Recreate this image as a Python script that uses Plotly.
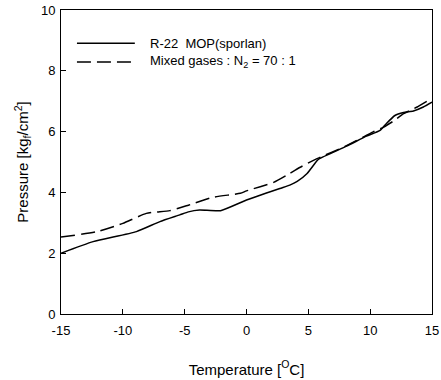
import plotly.graph_objects as go

# R-22 MOP (sporlan) - solid
r22_temp = [-15, -12.4, -8.9, -7.0, -5.4, -4.7, -3.8, -2.1, 0.0, 2.7, 3.5, 4.1,
            4.9, 5.7, 5.9, 8.1, 9.7, 10.8, 11.3, 12.0, 12.7, 13.5, 14.3, 15.0]
r22_press = [2.0, 2.38, 2.71, 3.04, 3.26, 3.36, 3.42, 3.40, 3.75, 4.13, 4.24, 4.36,
             4.62, 5.04, 5.11, 5.52, 5.85, 6.04, 6.26, 6.53, 6.63, 6.68, 6.81, 6.97]

# Mixed gases : N2 = 70 : 1 - dashed
mix_temp = [-15, -12.1, -10, -8.1, -6.2, -4.7, -2.7, -0.5, 0.0, 2.2, 3.2, 4.3,
            5.7, 8.0, 10.25, 11.1, 11.9, 12.7, 13.8, 14.6, 14.8]
mix_press = [2.53, 2.71, 2.98, 3.31, 3.40, 3.58, 3.84, 3.97, 4.05, 4.33, 4.55, 4.82,
             5.11, 5.52, 5.99, 6.15, 6.35, 6.59, 6.81, 7.0, 7.04]

x_ticks = [-15, -10, -5, 0, 5, 10, 15]
x_tick_text = ["-15", "-10", "-5", "0", "5", "10", "15"]
y_ticks = [0, 2, 4, 6, 8, 10]
y_tick_text = ["0", "2", "4", "6", "8", "10"]

legend_labels = ["R-22  MOP(sporlan)", "Mixed gases : N<sub>2</sub> = 70 : 1"]

FONT = "Liberation Sans, Arial, sans-serif"

fig = go.Figure()
fig.add_trace(go.Scatter(x=r22_temp, y=r22_press, mode="lines",
                         line=dict(color="black", width=1.5, shape="spline", smoothing=0.5),
                         name=legend_labels[0], showlegend=False))
fig.add_trace(go.Scatter(x=mix_temp, y=mix_press, mode="lines",
                         line=dict(color="black", width=1.5, dash="14px,6px",
                                   shape="spline", smoothing=0.5),
                         name=legend_labels[1], showlegend=False))

# hand-built legend
leg_y = [0.891, 0.829]
dashes = ["solid", "14px,6px"]
for lab, yy, dd in zip(legend_labels, leg_y, dashes):
    fig.add_shape(type="line", xref="paper", yref="paper", x0=0.043, x1=0.199,
                  y0=yy, y1=yy, line=dict(color="black", width=1.5, dash=dd))
    fig.add_annotation(xref="paper", yref="paper", x=0.2345, y=yy, text=lab,
                       showarrow=False, xanchor="left", yanchor="middle",
                       font=dict(family=FONT, size=13, color="black"))

fig.update_layout(
    width=441, height=380,
    margin=dict(l=61, r=9, t=9.5, b=65.7),
    paper_bgcolor="white", plot_bgcolor="white",
    font=dict(family=FONT, size=13, color="black"),
    xaxis=dict(range=[-15, 15], tickvals=x_ticks, ticktext=x_tick_text,
               ticks="inside", ticklen=5, ticklabelstandoff=4, automargin=False,
               tickcolor="black", showline=True, linecolor="black", linewidth=1,
               mirror=True, showgrid=False, zeroline=False,
               tickfont=dict(size=13),
               title=dict(text="Temperature [<sup>O</sup>C]", font=dict(size=15), standoff=27)),
    yaxis=dict(range=[0, 10], tickvals=y_ticks, ticktext=y_tick_text,
               ticks="inside", ticklen=5, ticklabelstandoff=2, automargin=False,
               tickcolor="black", showline=True, linecolor="black", linewidth=1,
               mirror=True, showgrid=False, zeroline=False,
               tickfont=dict(size=13),
               title=dict(text="Pressure [kg<sub>f</sub>/cm<sup>2</sup>]", font=dict(size=15), standoff=8)),
)

fig.write_html("out.html")
